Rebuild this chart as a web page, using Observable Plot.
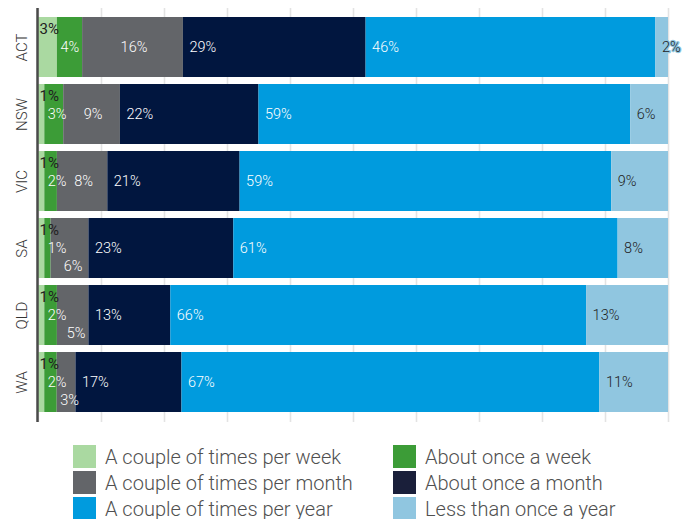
<!DOCTYPE html>
<html>
<head>
<meta charset="utf-8">
<script src="https://cdn.jsdelivr.net/npm/d3@7"></script>
<script src="https://cdn.jsdelivr.net/npm/@observablehq/plot@0.6"></script>
<style>
  html, body { margin: 0; padding: 0; background: #fff; }
  body { width: 689px; height: 519px; overflow: hidden; font-family: Roboto, "Open Sans", sans-serif; }
  #legend { display: grid; grid-template-columns: 320px 280px; margin: 20px 0 0 73px; row-gap: 3px; }
  .item { display: flex; align-items: center; height: 23px; font-size: 20px; font-weight: 300; color: #505050; white-space: nowrap; }
  .sw { width: 23px; height: 23px; margin-right: 9px; flex: none; }
</style>
</head>
<body>
<div id="chart"></div>
<div id="legend"></div>
<script>
const states = ["ACT", "NSW", "VIC", "SA", "QLD", "WA"];
const categories = [
  "A couple of times per week",
  "About once a week",
  "A couple of times per month",
  "About once a month",
  "A couple of times per year",
  "Less than once a year"
];
const colors = ["#aad9a1", "#3c9c37", "#636569", "#01163f", "#009bde", "#90c6e0"];

const coupleWeek  = [3, 1, 1, 1, 1, 1];
const onceWeek    = [4, 3, 2, 1, 2, 2];
const coupleMonth = [16, 9, 8, 6, 5, 3];
const onceMonth   = [29, 22, 21, 23, 13, 17];
const coupleYear  = [46, 59, 59, 61, 66, 67];
const lessYear    = [2, 6, 9, 8, 13, 11];

const series = [coupleWeek, onceWeek, coupleMonth, onceMonth, coupleYear, lessYear];

// build rows, with normalized cumulative start / middle derived from values
const rows = [];
states.forEach((s, i) => {
  const total = d3.sum(series, arr => arr[i]);
  let acc = 0;
  series.forEach((arr, k) => {
    const v = arr[i];
    rows.push({state: s, cat: categories[k], k, value: v,
      start: acc / total, mid: (acc + v / 2) / total});
    acc += v;
  });
});
const pct = d => d.value + "%";
const byK = k => rows.filter(d => d.k === k);
const FS = 14.5, FW = 300;

const chart = Plot.plot({
  width: 689,
  height: 425,
  marginTop: 8,
  marginBottom: 3,
  marginLeft: 38,
  marginRight: 21,
  style: {fontFamily: "Roboto, 'Open Sans', sans-serif", background: "#fff"},
  x: {domain: [0, 1], axis: null},
  y: {domain: states, padding: 0.1, label: null},
  color: {domain: categories, range: colors},
  marks: [
    Plot.gridX(d3.range(0, 1.0001, 0.1), {stroke: "#e3e3e3", strokeOpacity: 1, strokeWidth: 1.6}),
    Plot.barX(rows, Plot.stackX({x: "value", y: "state", fill: "cat", order: categories, offset: "normalize"})),
    Plot.ruleX([0], {stroke: "#4a4a4a", strokeWidth: 2.5, dx: -1}),
    Plot.axisY({tickSize: 0, tickPadding: 12, tickRotate: -90, fontSize: 15, fontWeight: 300, fill: "#333", label: null}),
    // light green labels: dark, at top
    Plot.text(byK(0), {x: "start", y: "state", text: pct, textAnchor: "start", dx: 1, dy: -18,
      fontSize: 15, fontWeight: 400, fill: "#222"}),
    // green labels
    Plot.text(byK(1), {x: "start", y: "state", text: pct, textAnchor: "start", dx: 3,
      fontSize: FS, fontWeight: FW, fill: "#fff"}),
    // grey labels: centered, low when small
    Plot.text(byK(2).filter(d => d.value >= 7), {x: "mid", y: "state", text: pct, textAnchor: "middle", dx: 1,
      fontSize: FS, fontWeight: FW, fill: "#fff"}),
    Plot.text(byK(2).filter(d => d.value < 7), {x: "mid", y: "state", text: pct, textAnchor: "middle", dx: 3, dy: 18,
      fontSize: FS, fontWeight: FW, fill: "#fff"}),
    // navy & blue labels
    Plot.text(rows.filter(d => d.k === 3 || d.k === 4), {x: "start", y: "state", text: pct, textAnchor: "start", dx: 6,
      fontSize: FS, fontWeight: FW, fill: "#fff"}),
    // light blue labels
    Plot.text(byK(5), {x: "start", y: "state", text: pct, textAnchor: "start", dx: 6,
      fontSize: FS, fontWeight: FW, fill: "#222", stroke: colors[5], strokeWidth: 2.5, paintOrder: "stroke"})
  ]
});
document.getElementById("chart").appendChild(chart);

// legend: two columns, row-major
const legend = document.getElementById("legend");
categories.forEach((c, i) => {
  const it = document.createElement("div");
  it.className = "item";
  const sw = document.createElement("span");
  sw.className = "sw";
  sw.style.background = i === 3 ? "#1a1f3a" : colors[i];
  it.appendChild(sw);
  const t = document.createElement("span");
  t.textContent = c;
  it.appendChild(t);
  legend.appendChild(it);
});
</script>
</body>
</html>
